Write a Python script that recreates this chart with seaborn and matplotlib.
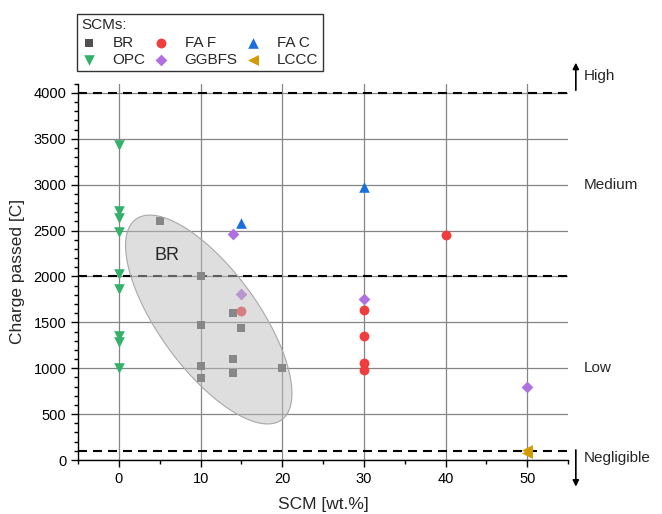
import numpy as np
import pandas as pd
import matplotlib
matplotlib.use("Agg")
import matplotlib.pyplot as plt
import seaborn as sns

# --- data ---
br_x = [5, 10, 10, 10, 10, 14, 14, 14, 15, 20]
br_y = [2600, 2000, 1470, 1030, 890, 1600, 1100, 950, 1440, 1000]
opc_x = [0, 0, 0, 0, 0, 0, 0, 0, 0]
opc_y = [3430, 2710, 2640, 2490, 2030, 1860, 1350, 1290, 1000]
faf_x = [15, 30, 30, 30, 30, 40]
faf_y = [1620, 1635, 1355, 1060, 980, 2450]
ggbfs_x = [14, 15, 30, 50]
ggbfs_y = [2465, 1810, 1760, 800]
fac_x = [15, 30]
fac_y = [2580, 2970]
lccc_x = [50, 50]
lccc_y = [75, 105]

groups = ["BR", "OPC", "FA F", "GGBFS", "FA C", "LCCC"]
colors = ["#505050", "#33b06a", "#f03c3c", "#b070e0", "#1a6fdf", "#d49a00"]
markers = ["s", "v", "o", "D", "^", "<"]
sizes = [40, 58, 50, 36, 58, 62]

thresholds = [4000, 2000, 100]
class_labels = ["High", "Medium", "Low", "Negligible"]
class_y = [4185, 3000, 1000, 22]

# BR cluster ellipse: centre and axis vectors in data units
ell_center = (11.0, 1531)
ell_major = (8.93, -1093)
ell_minor = (4.91, 317)

xs = [br_x, opc_x, faf_x, ggbfs_x, fac_x, lccc_x]
ys = [br_y, opc_y, faf_y, ggbfs_y, fac_y, lccc_y]
df = pd.concat(
    [pd.DataFrame({"x": x, "y": y, "SCM": g}) for x, y, g in zip(xs, ys, groups)],
    ignore_index=True,
)

sns.set_style("white")
plt.rcParams["font.family"] = ["Liberation Sans", "DejaVu Sans"]

fig = plt.figure(figsize=(6.62, 5.14), dpi=100)
ax = fig.add_axes([0.118, 0.105, 0.740, 0.732])

ax.set_xlim(-5, 55)
ax.set_ylim(0, 4100)
ax.set_xticks([0, 10, 20, 30, 40, 50])
ax.set_xticks(np.arange(-5, 56, 5), minor=True)
ax.set_yticks(np.arange(0, 4001, 500))
ax.set_yticks(np.arange(0, 4101, 100), minor=True)
ax.grid(True, which="major", color="#858585", linewidth=0.9)
ax.set_axisbelow(True)

for t in thresholds:
    ax.axhline(t, color="black", linewidth=1.5, linestyle=(0, (4.3, 2.9)), zorder=2)

# scatter points by group
for g, c, m, s in zip(groups, colors, markers, sizes):
    sub = df[df["SCM"] == g]
    sns.scatterplot(data=sub, x="x", y="y", ax=ax, color=c, marker=m, s=s,
                    linewidth=0, label=g, zorder=3, legend=False)

# BR ellipse drawn over the points
t = np.linspace(0, 2 * np.pi, 300)
ex = ell_center[0] + np.cos(t) * ell_major[0] + np.sin(t) * ell_minor[0]
ey = ell_center[1] + np.cos(t) * ell_major[1] + np.sin(t) * ell_minor[1]
ax.fill(ex, ey, facecolor="#bebebe", alpha=0.5, edgecolor="none", zorder=4)
ax.plot(ex, ey, color="#a8a8a8", linewidth=0.8, zorder=4)
ax.text(5.9, 2234, "BR", fontsize=13, ha="center", va="center", zorder=5)

# spines & ticks
for side in ["top", "right"]:
    ax.spines[side].set_visible(False)
for side in ["left", "bottom"]:
    ax.spines[side].set_color("black")
    ax.spines[side].set_linewidth(1.0)
ax.tick_params(axis="both", which="major", direction="out", length=5, width=1,
               colors="black", labelsize=10.5, left=True, bottom=True)
ax.tick_params(axis="both", which="minor", direction="out", length=3, width=1,
               colors="black", left=True, bottom=True)

ax.set_xlabel("SCM [wt.%]", fontsize=12.5, labelpad=8)
ax.set_ylabel("Charge passed [C]", fontsize=12.5, labelpad=6)

# classification labels at the right
trans = ax.get_yaxis_transform()
for lab, yy in zip(class_labels, class_y):
    ax.text(1.032, yy, lab, transform=trans, fontsize=11, ha="left", va="center",
            clip_on=False)
ax.annotate("", xy=(1.016, 4330), xytext=(1.016, 4030), xycoords=trans,
            textcoords=trans, annotation_clip=False,
            arrowprops=dict(arrowstyle="-|>", color="black", lw=1.2,
                            mutation_scale=9, shrinkA=0, shrinkB=0))
ax.annotate("", xy=(1.016, -290), xytext=(1.016, 110), xycoords=trans,
            textcoords=trans, annotation_clip=False,
            arrowprops=dict(arrowstyle="-|>", color="black", lw=1.2,
                            mutation_scale=9, shrinkA=0, shrinkB=0))

# legend above the axes
handles, labels = ax.get_legend_handles_labels()
leg = fig.legend(handles, labels, title="SCMs:", ncol=3, loc="upper left",
                 bbox_to_anchor=(0.116, 0.973), borderaxespad=0, fontsize=11,
                 title_fontsize=11, frameon=True, fancybox=False,
                 edgecolor="black", handletextpad=1.05, columnspacing=0.5,
                 borderpad=0.3, labelspacing=0.2, handlelength=1.0,
                 alignment="left")
leg.get_frame().set_linewidth(1.0)

fig.savefig("out.png", dpi=100)
